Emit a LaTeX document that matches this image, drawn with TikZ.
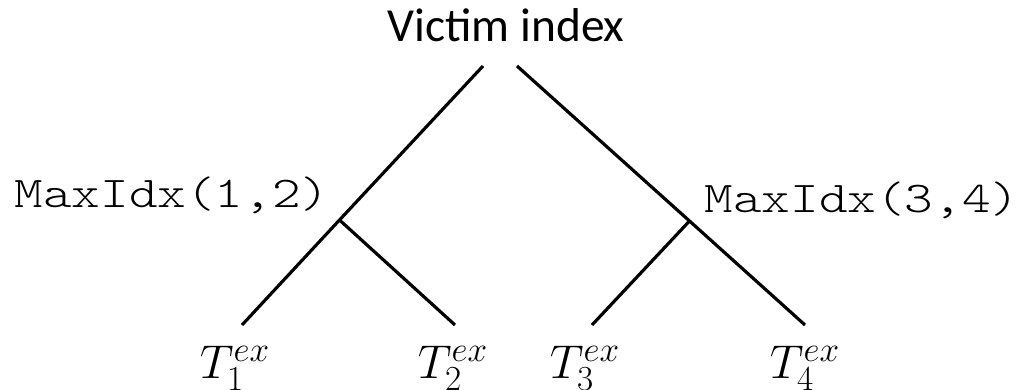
\documentclass[tikz,border=0pt]{standalone}
\usepackage{fix-cm}
\usepackage{fontspec}
\setsansfont{Carlito}
\newfontfamily\codefont{lmmonolt10-regular.otf}[FakeStretch=1.24]
\DeclareMathSizes{27}{27}{20}{15}
\usetikzlibrary{positioning}

\begin{document}
\begin{tikzpicture}[branch/.style={line width=1.8pt},
    root/.style={font=\sffamily\fontsize{27}{32}\selectfont,anchor=base,inner sep=0pt},
    maxlbl/.style={font=\codefont\fontsize{25}{30}\selectfont,anchor=base,inner sep=0pt},
    leaf/.style={font=\fontsize{27}{32}\selectfont,anchor=base,inner sep=0pt}]
\useasboundingbox (0,0) rectangle (20.36,7.8);
\node[root] (victim) at (10.12,6.96) {Victim index};
\node[maxlbl] (max12) at (3.44,3.64) {MaxIdx(1,2)};
\node[maxlbl] (max34) at (17.24,3.54) {MaxIdx(3,4)};
\node[leaf] (t1) at (4.70,0.22) {$T_1^{ex}$};
\node[leaf] (t2) at (9.06,0.22) {$T_2^{ex}$};
\node[leaf] (t3) at (11.70,0.22) {$T_3^{ex}$};
\node[leaf] (t4) at (16.10,0.22) {$T_4^{ex}$};
% line ends
\coordinate (topl) at (9.66,6.48);
\coordinate (topr) at (10.34,6.48);
\coordinate (j12) at (6.79,3.40);
\coordinate (j34) at (13.79,3.38);
\coordinate (e1) at (4.84,1.30);
\coordinate (e2) at (9.10,1.30);
\coordinate (e3) at (11.84,1.30);
\coordinate (e4) at (16.10,1.30);
\draw[branch] (topl) -- (j12) -- (e1);
\draw[branch] (j12) -- (e2);
\draw[branch] (topr) -- (j34) -- (e4);
\draw[branch] (j34) -- (e3);
\end{tikzpicture}
\end{document}
